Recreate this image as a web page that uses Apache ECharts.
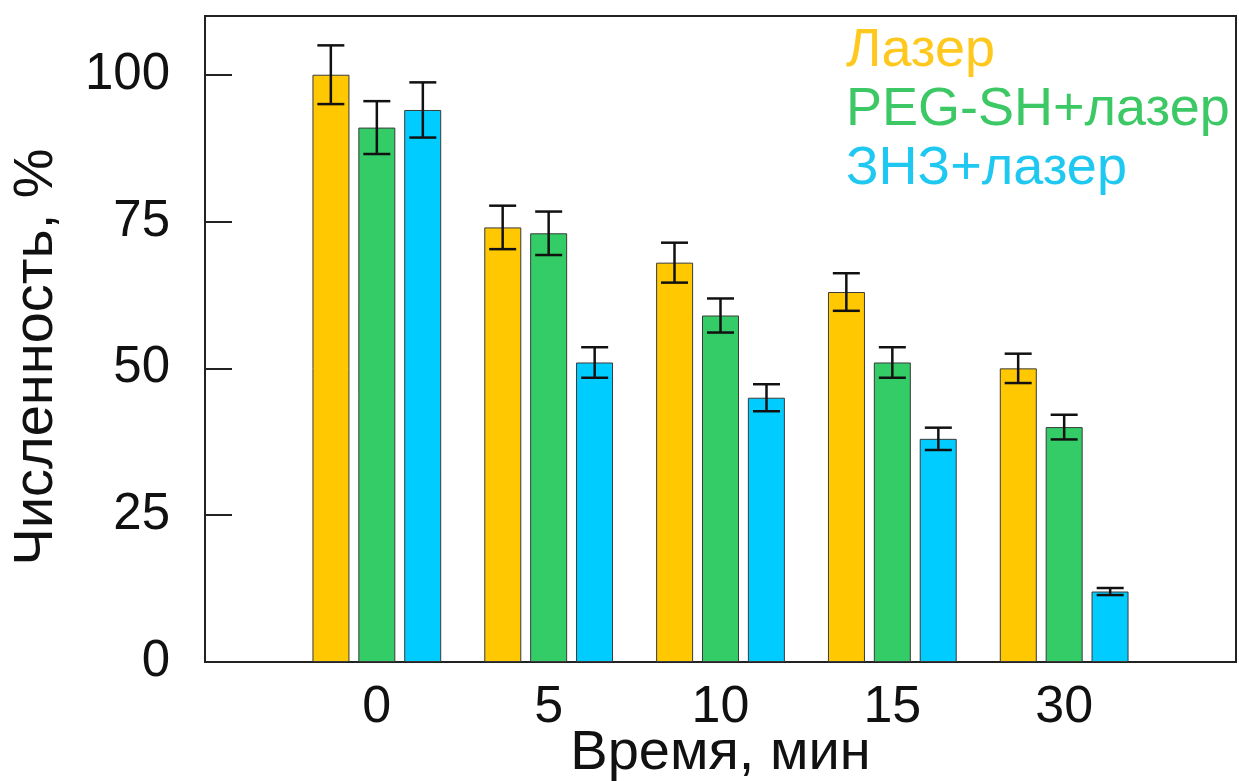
<!DOCTYPE html>
<html>
<head>
<meta charset="utf-8">
<script src="https://cdn.jsdelivr.net/npm/echarts@6/dist/echarts.min.js"></script>
<style>
html,body{margin:0;padding:0;background:#fff;}
#chart{width:1239px;height:781px;}
</style>
</head>
<body>
<div id="chart"></div>
<script>
// ---- data ----
const categories = ['0', '5', '10', '15', '30'];
const seriesNames = ['Лазер', 'PEG-SH+лазер', 'ЗНЗ+лазер'];
const laser      = [100, 74, 68, 63, 50];
const laserErr   = [5.0, 3.7, 3.4, 3.2, 2.5];
const pegLaser   = [91, 73, 59, 51, 40];
const pegErr     = [4.5, 3.7, 2.9, 2.6, 2.1];
const znzLaser   = [94, 51, 45, 38, 12];
const znzErr     = [4.7, 2.6, 2.3, 1.9, 0.6];
const yTicks     = [0, 25, 50, 75, 100];

const colors = ['#FFC800', '#33CC66', '#00CCFF'];
const textColors = ['#FFC81E', '#3CC864', '#1EC8F0'];
const FONT = 'Liberation Sans, Arial, sans-serif';

const values = [laser, pegLaser, znzLaser];
const errs = [laserErr, pegErr, znzErr];

// category axis with one empty slot at each side
const axisCats = [''].concat(categories, [' ']);

const BAR_W = 37;
const BAR_PITCH = 46;

const series = [];
values.forEach((vals, si) => {
  series.push({
    name: seriesNames[si],
    type: 'bar',
    barWidth: BAR_W,
    barGap: '24%',
    data: categories.map((c, i) => [c, vals[i]]),
    itemStyle: { color: colors[si], borderColor: '#3a3a3a', borderWidth: 1 },
    z: 2
  });
});
values.forEach((vals, si) => {
  series.push({
    name: seriesNames[si] + '_err',
    type: 'custom',
    data: categories.map((c, i) => [c, vals[i] - errs[si][i], vals[i] + errs[si][i]]),
    encode: { x: 0, y: [1, 2] },
    renderItem: function (params, api) {
      const lo = api.coord([api.value(0), api.value(1)]);
      const hi = api.coord([api.value(0), api.value(2)]);
      const x = lo[0] + (si - 1) * BAR_PITCH;
      const hw = 13.5;
      const st = { stroke: '#111', lineWidth: 2.5 };
      return {
        type: 'group',
        children: [
          { type: 'line', shape: { x1: x, y1: lo[1], x2: x, y2: hi[1] }, style: st },
          { type: 'line', shape: { x1: x - hw, y1: lo[1], x2: x + hw, y2: lo[1] }, style: st },
          { type: 'line', shape: { x1: x - hw, y1: hi[1], x2: x + hw, y2: hi[1] }, style: st }
        ]
      };
    },
    z: 5
  });
});

const chart = echarts.init(document.getElementById('chart'), null, { renderer: 'canvas' });
chart.setOption({
  animation: false,
  backgroundColor: '#fff',
  textStyle: { fontFamily: FONT },
  grid: {
    left: 205, right: 3, top: 16, bottom: 119,
    containLabel: false,
    outerBoundsMode: 'none',
    show: true, borderColor: '#222', borderWidth: 2, backgroundColor: 'transparent'
  },
  legend: {
    orient: 'vertical',
    left: 836, top: 19,
    icon: 'none',
    itemWidth: 0, itemHeight: 0,
    itemGap: 5,
    selectedMode: false,
    data: seriesNames.map((n, i) => ({ name: n, textStyle: { color: textColors[i] } })),
    textStyle: { fontSize: 54, fontFamily: FONT, padding: 0 }
  },
  xAxis: {
    type: 'category',
    data: axisCats,
    boundaryGap: false,
    name: 'Время, мин',
    nameLocation: 'middle',
    nameGap: 64,
    nameMoveOverlap: false,
    nameTextStyle: { fontSize: 56, color: '#111', fontFamily: FONT },
    axisLine: { show: true, lineStyle: { color: '#222', width: 2 } },
    axisTick: { show: false },
    axisLabel: { fontSize: 52, color: '#111', margin: 20, interval: 0, fontFamily: FONT },
    splitLine: { show: false }
  },
  yAxis: {
    type: 'value',
    min: 0, max: 110, interval: 25,
    name: 'Численность, %',
    nameLocation: 'middle',
    nameGap: 140,
    nameMoveOverlap: false,
    nameTextStyle: { fontSize: 56, color: '#111', fontFamily: FONT, padding: [0, 36, 0, 0] },
    axisLine: { show: true, lineStyle: { color: '#222', width: 2 } },
    axisTick: { show: true, inside: true, length: 27, lineStyle: { color: '#222', width: 2 } },
    axisLabel: {
      fontSize: 51, color: '#111', margin: 35, fontFamily: FONT,
      formatter: v => (yTicks.indexOf(v) >= 0 ? String(v) : '')
    },
    splitLine: { show: false }
  },
  series: series
});
</script>
</body>
</html>
